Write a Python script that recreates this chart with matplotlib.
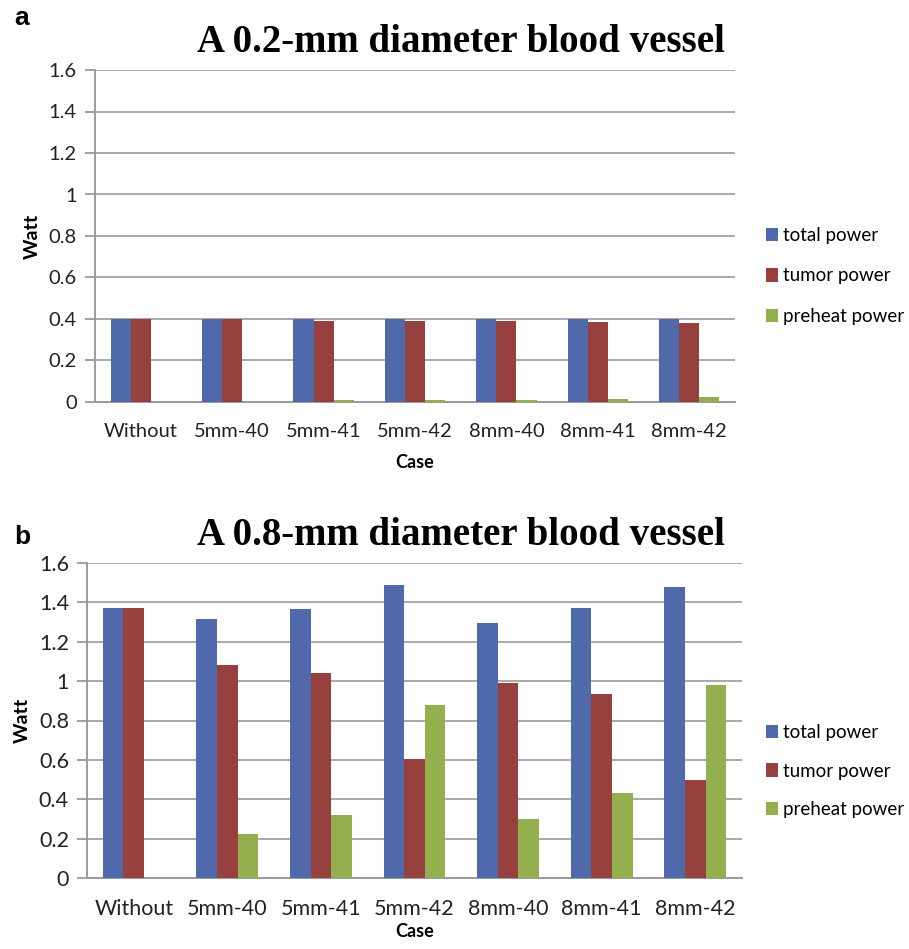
import matplotlib
import matplotlib.pyplot as plt
import numpy as np

matplotlib.use("Agg")

W, H = 909, 949

cases = ["Without", "5mm-40", "5mm-41", "5mm-42", "8mm-40", "8mm-41", "8mm-42"]
series_names = ["total power", "tumor power", "preheat power"]

# 0.2-mm vessel
total_a = [0.40, 0.40, 0.40, 0.40, 0.40, 0.40, 0.40]
tumor_a = [0.40, 0.398, 0.392, 0.392, 0.390, 0.386, 0.380]
preheat_a = [0.0, 0.0, 0.008, 0.008, 0.008, 0.014, 0.024]

# 0.8-mm vessel
total_b = [1.37, 1.314, 1.365, 1.49, 1.297, 1.37, 1.48]
tumor_b = [1.37, 1.083, 1.042, 0.605, 0.992, 0.936, 0.50]
preheat_b = [0.0, 0.223, 0.318, 0.878, 0.302, 0.431, 0.98]

colors = ["#5069AA", "#96413E", "#94B04E"]
yticks = [0, 0.2, 0.4, 0.6, 0.8, 1.0, 1.2, 1.4, 1.6]
ytick_labels = ["0", "0.2", "0.4", "0.6", "0.8", "1", "1.2", "1.4", "1.6"]

SANS = "Lato"
SERIF = "Liberation Serif"


def px_axes(fig, left, right, top, bottom):
    return fig.add_axes([left / W, 1 - bottom / H, (right - left) / W, (bottom - top) / H])


def draw_panel(fig, ax, data, title, title_y, letter, letter_y, legend_y,
               tick_size, xpad, case_pad, leg_spacing):
    x = np.arange(len(cases))
    width = 0.22
    handles = []
    for k, (vals, col, name) in enumerate(zip(data, colors, series_names)):
        b = ax.bar(x + (k - 1) * width, vals, width=width, color=col, label=name, zorder=3)
        handles.append(b)

    ax.set_xlim(-0.5, len(cases) - 0.5)
    ax.set_ylim(0, 1.6)
    ax.set_yticks(yticks)
    ax.set_yticklabels(ytick_labels, fontfamily=SANS, fontsize=tick_size, color="#222222")
    ax.set_xticks(x)
    ax.set_xticklabels(cases, fontfamily=SANS, fontsize=tick_size, color="#222222")
    ax.tick_params(axis="x", length=0, pad=xpad)
    ax.tick_params(axis="y", length=7, width=1.3, color="#9a9a9a", pad=6, direction="out")
    ax.grid(axis="y", color="#a8a8a8", linewidth=1.4, zorder=0)
    for side in ["top", "right"]:
        ax.spines[side].set_visible(False)
    for side in ["left", "bottom"]:
        ax.spines[side].set_color("#9a9a9a")
        ax.spines[side].set_linewidth(1.4)

    ax.set_ylabel("Watt", fontfamily=SANS, fontweight="bold", fontsize=14, labelpad=6)
    ax.set_xlabel("Case", fontfamily=SANS, fontweight="bold", fontsize=13, labelpad=case_pad)

    fig.text(461 / W, 1 - title_y / H, title, fontfamily=SERIF, fontweight="bold",
             fontsize=28, ha="center", va="baseline")
    fig.text(14 / W, 1 - letter_y / H, letter, fontfamily="Liberation Sans", fontweight="bold",
             fontsize=19, ha="left", va="center")

    fig.legend(handles=handles, labels=series_names, loc="center left",
               bbox_to_anchor=(757 / W, 1 - legend_y / H), frameon=False,
               prop={"family": SANS, "size": 13.5}, handlelength=0.6, handleheight=0.7,
               handletextpad=0.3, labelspacing=leg_spacing, borderpad=0)


fig = plt.figure(figsize=(W / 100, H / 100), dpi=100)

ax_a = px_axes(fig, 95, 735, 70, 402)
draw_panel(fig, ax_a, [total_a, tumor_a, preheat_a], "A 0.2-mm diameter blood vessel",
           52, "a", 18, 276, 14.5, 15, 10, 1.25)

ax_b = px_axes(fig, 87, 742, 563, 878)
draw_panel(fig, ax_b, [total_b, tumor_b, preheat_b], "A 0.8-mm diameter blood vessel",
           545, "b", 537, 771, 15.5, 15, 3, 1.15)

fig.savefig("out.png", dpi=100)
